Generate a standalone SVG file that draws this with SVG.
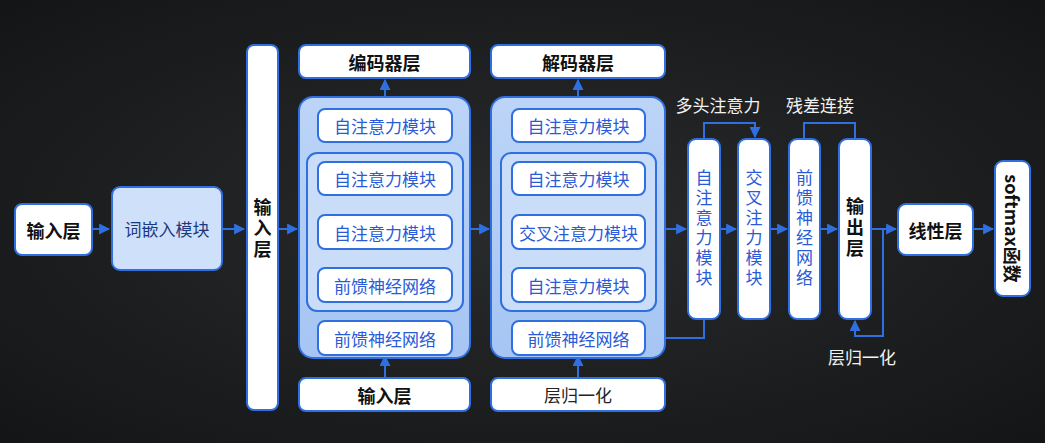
<svg xmlns="http://www.w3.org/2000/svg" width="1045" height="443" viewBox="0 0 1045 443">
<defs>
<radialGradient id="bg" cx="0.5" cy="0.5" r="0.7"><stop offset="0" stop-color="#2a2b2d"/><stop offset="1" stop-color="#141516"/></radialGradient>
<linearGradient id="cont" x1="0" y1="0" x2="0" y2="1"><stop offset="0" stop-color="#bcd4f7"/><stop offset="1" stop-color="#a6c5f3"/></linearGradient>
<marker id="ar" viewBox="0 0 10 10" refX="9" refY="5" markerWidth="5.5" markerHeight="5.5" orient="auto"><path d="M0,0 L10,5 L0,10 z" fill="#2f6fe0"/></marker>
<style>
.w{fill:#fff;stroke:#2f6fe0;stroke-width:2}
.c{fill:url(#cont);stroke:#2f6fe0;stroke-width:2}
.ci{fill:#c9dcf8;stroke:#2f6fe0;stroke-width:2}
.t{font-family:"Noto Sans CJK SC","Noto Sans",sans-serif;font-size:17px;text-anchor:middle;dominant-baseline:central}
.k{fill:#111;font-weight:bold;font-size:18px}
.b{fill:#2a5bd7}
.v{writing-mode:vertical-rl;letter-spacing:3px}
.l{fill:#f2f2f2;font-size:17px}
.e{fill:none;stroke:#2f6fe0;stroke-width:2}
</style>
</defs>
<rect width="1045" height="443" fill="url(#bg)"/>
<g id="connectors">
<path class="e" d="M92,229 H109" marker-end="url(#ar)"/>
<path class="e" d="M222,229 H244" marker-end="url(#ar)"/>
<path class="e" d="M278,229 H297" marker-end="url(#ar)"/>
<path class="e" d="M470,229 H489" marker-end="url(#ar)"/>
<path class="e" d="M385,97 V80" marker-end="url(#ar)"/>
<path class="e" d="M578,97 V80" marker-end="url(#ar)"/>
<path class="e" d="M385,161 V143" marker-end="url(#ar)"/>
<path class="e" d="M385,214 V196" marker-end="url(#ar)"/>
<path class="e" d="M385,267 V250" marker-end="url(#ar)"/>
<path class="e" d="M385,320 V303" marker-end="url(#ar)"/>
<path class="e" d="M385,378 V356" marker-end="url(#ar)"/>
<path class="e" d="M578,161 V143" marker-end="url(#ar)"/>
<path class="e" d="M578,214 V196" marker-end="url(#ar)"/>
<path class="e" d="M578,267 V250" marker-end="url(#ar)"/>
<path class="e" d="M578,320 V303" marker-end="url(#ar)"/>
<path class="e" d="M578,378 V356" marker-end="url(#ar)"/>
<path class="e" d="M665,229 H686" marker-end="url(#ar)"/>
<path class="e" d="M645,338 H704 V319"/>
<path class="e" d="M720,229 H736" marker-end="url(#ar)"/>
<path class="e" d="M770,229 H787" marker-end="url(#ar)"/>
<path class="e" d="M820,229 H837" marker-end="url(#ar)"/>
<path class="e" d="M871,229 H896" marker-end="url(#ar)"/>
<path class="e" d="M973,229 H993" marker-end="url(#ar)"/>
<path class="e" d="M704,139 V123 H755 V137" marker-end="url(#ar)"/>
<path class="e" d="M804,139 V123 H855 V139"/>
<path class="e" d="M883,229 V336 H855 V321" marker-end="url(#ar)"/>
</g>
<g id="input"><rect class="w" x="15" y="204" width="77" height="51" rx="7"/><text class="t k" x="53.5" y="229.5">输入层</text></g>
<g id="embed"><rect x="112" y="187" width="110" height="83" rx="8" fill="#cfe0fb" stroke="#2f6fe0" stroke-width="2"/><text class="t" x="167" y="228.5" fill="#1a3a80">词嵌入模块</text></g>
<g id="input-tall"><rect class="w" x="247" y="45" width="31" height="365" rx="7"/><text class="t k v" x="262.5" y="230">输入层</text></g>
<g id="encoder">
<rect class="w" x="299" y="45" width="171" height="33" rx="7"/><text class="t k" x="384.5" y="61.5">编码器层</text>
<rect class="c" x="299" y="97" width="171" height="261" rx="14"/>
<rect class="ci" x="307" y="153" width="156" height="158" rx="10"/>
<rect class="w" x="318" y="109" width="134" height="33" rx="7"/><text class="t b" x="385" y="125.5">自注意力模块</text>
<rect class="w" x="318" y="162" width="134" height="33" rx="7"/><text class="t b" x="385" y="178.5">自注意力模块</text>
<rect class="w" x="318" y="215" width="134" height="34" rx="7"/><text class="t b" x="385" y="232">自注意力模块</text>
<rect class="w" x="318" y="268" width="134" height="34" rx="7"/><text class="t b" x="385" y="285">前馈神经网络</text>
<rect class="w" x="318" y="321" width="134" height="34" rx="7"/><text class="t b" x="385" y="338">前馈神经网络</text>
<rect class="w" x="299" y="378" width="171" height="33" rx="7"/><text class="t k" x="384.5" y="394.5">输入层</text>
</g>
<g id="decoder">
<rect class="w" x="491" y="45" width="174" height="33" rx="7"/><text class="t k" x="578" y="61.5">解码器层</text>
<rect class="c" x="491" y="97" width="174" height="261" rx="14"/>
<rect class="ci" x="501" y="153" width="155" height="158" rx="10"/>
<rect class="w" x="512" y="109" width="133" height="33" rx="7"/><text class="t b" x="578.5" y="125.5">自注意力模块</text>
<rect class="w" x="512" y="162" width="133" height="33" rx="7"/><text class="t b" x="578.5" y="178.5">自注意力模块</text>
<rect class="w" x="512" y="215" width="133" height="34" rx="7"/><text class="t b" x="578.5" y="232">交叉注意力模块</text>
<rect class="w" x="512" y="268" width="133" height="34" rx="7"/><text class="t b" x="578.5" y="285">自注意力模块</text>
<rect class="w" x="512" y="321" width="133" height="34" rx="7"/><text class="t b" x="578.5" y="338">前馈神经网络</text>
<rect class="w" x="491" y="378" width="174" height="33" rx="7"/><text class="t" x="578" y="394.5" fill="#222">层归一化</text>
</g>
<g id="self-attn"><rect class="w" x="688" y="139" width="32" height="180" rx="8"/><text class="t b v" x="704" y="229">自注意力模块</text></g>
<g id="cross-attn"><rect class="w" x="738" y="139" width="32" height="180" rx="8"/><text class="t b v" x="754" y="229">交叉注力模块</text></g>
<g id="ffn"><rect class="w" x="789" y="139" width="31" height="180" rx="8"/><text class="t b v" x="804.5" y="229">前馈神经网络</text></g>
<g id="output"><rect class="w" x="839" y="139" width="32" height="180" rx="8"/><text class="t k v" x="855" y="229">输出层</text></g>
<g id="linear"><rect class="w" x="898" y="204" width="75" height="51" rx="8"/><text class="t k" x="935.5" y="229.5">线性层</text></g>
<g id="softmax"><rect class="w" x="995" y="161" width="35" height="135" rx="8"/><text class="t k" x="1012.5" y="228.5" transform="rotate(90 1012.5 228.5)">softmax函数</text></g>
<g id="labels">
<text class="t l" x="718" y="104">多头注意力</text>
<text class="t l" x="820" y="104">残差连接</text>
<text class="t l" x="862" y="356">层归一化</text>
</g>
</svg>
